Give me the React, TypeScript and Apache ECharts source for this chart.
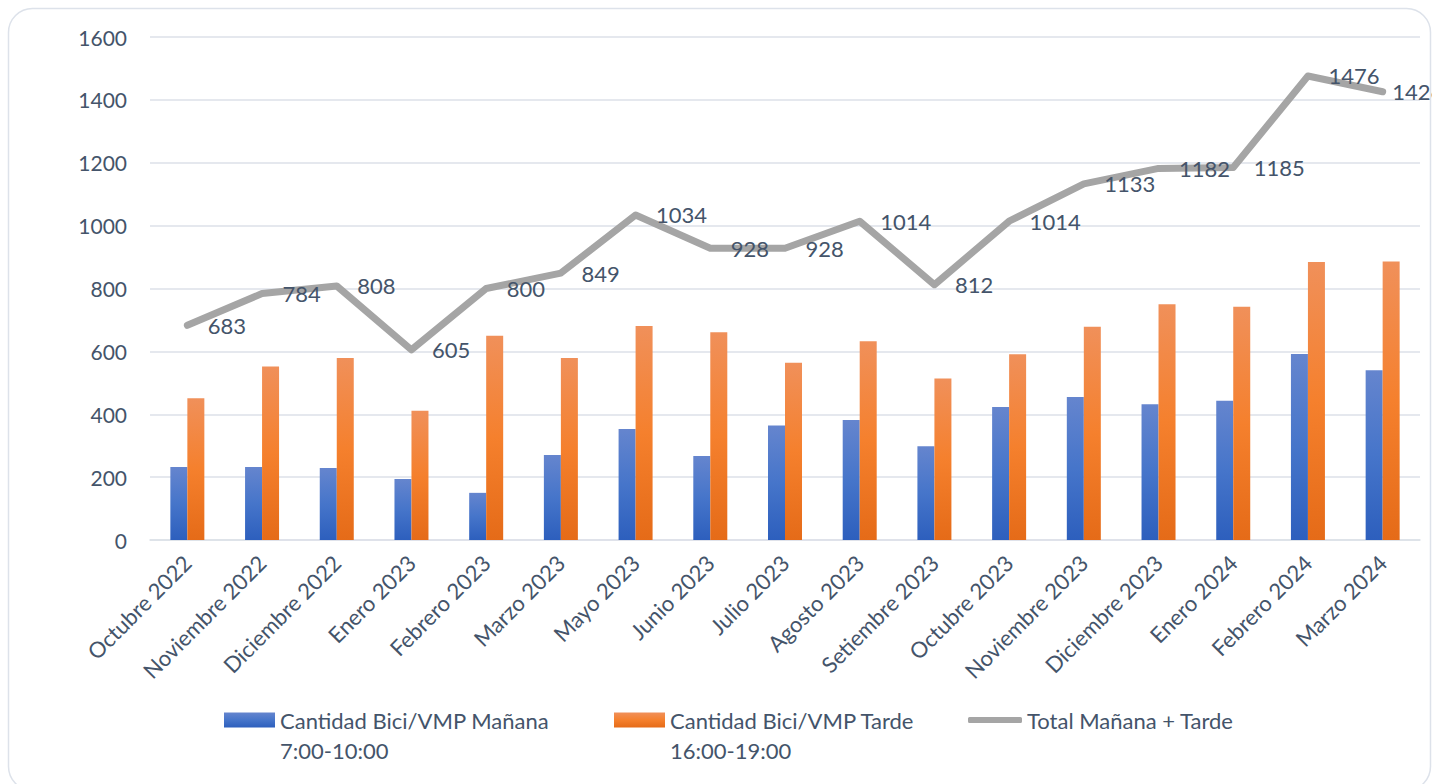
import React, { useEffect, useRef } from "react";
import * as echarts from "echarts";

const categories = [
  "Octubre 2022", "Noviembre 2022", "Diciembre 2022", "Enero 2023", "Febrero 2023",
  "Marzo 2023", "Mayo 2023", "Junio 2023", "Julio 2023", "Agosto 2023",
  "Setiembre 2023", "Octubre 2023", "Noviembre 2023", "Diciembre 2023",
  "Enero 2024", "Febrero 2024", "Marzo 2024",
];
const manana = [232, 232, 229, 194, 150, 270, 353, 267, 364, 382, 298, 423, 455, 432, 443, 592, 540];
const tarde = [451, 552, 579, 411, 650, 579, 681, 661, 564, 632, 514, 591, 678, 750, 742, 884, 886];
const total = [683, 784, 808, 605, 800, 849, 1034, 928, 928, 1014, 812, 1014, 1133, 1182, 1185, 1476, 1426];

const seriesNames = ["Cantidad Bici/VMP Mañana", "Cantidad Bici/VMP Tarde", "Total Mañana + Tarde"];
const legendTexts = ["\nCantidad Bici/VMP Mañana\n7:00-10:00", "\nCantidad Bici/VMP Tarde\n16:00-19:00", "Total Mañana + Tarde"];

const FONT = "Lato";
const TXT = "#44546A";

export default function App() {
  const ref = useRef<HTMLDivElement>(null);
  useEffect(() => {
    if (!ref.current) return;
    const chart = echarts.init(ref.current, null, { renderer: "svg" });
    const blue = new echarts.graphic.LinearGradient(0, 0, 0, 1, [
      { offset: 0, color: "#6585CE" },
      { offset: 0.5, color: "#4675CA" },
      { offset: 1, color: "#2D5FBD" },
    ]);
    const orange = new echarts.graphic.LinearGradient(0, 0, 0, 1, [
      { offset: 0, color: "#F0905A" },
      { offset: 0.5, color: "#F5802D" },
      { offset: 1, color: "#E56B18" },
    ]);
    const legendText = (i: number) => () => legendTexts[i];
    const lineData = total.map((v, i) =>
      i === total.length - 1 ? { value: v, label: { offset: [-11, 0] } } : v
    );
    chart.setOption({
      animation: false,
      backgroundColor: "#ffffff",
      textStyle: { fontFamily: FONT },
      graphic: [
        {
          type: "rect",
          shape: { x: 8.5, y: 8.5, width: 1422, height: 782, r: 24 },
          style: { fill: "none", stroke: "#DDE2EA", lineWidth: 1.5 },
          silent: true,
          z: -10,
        },
      ],
      grid: { left: 150, right: 12, top: 37, bottom: 244, containLabel: false },
      legend: [
        {
          data: [seriesNames[0]],
          left: 219,
          top: 670,
          itemWidth: 51,
          itemHeight: 15,
          icon: "rect",
          formatter: legendText(0),
          textStyle: { color: TXT, fontSize: 22, fontFamily: FONT, lineHeight: 30 },
        },
        {
          data: [seriesNames[1]],
          left: 609,
          top: 670,
          itemWidth: 51,
          itemHeight: 15,
          icon: "rect",
          formatter: legendText(1),
          textStyle: { color: TXT, fontSize: 22, fontFamily: FONT, lineHeight: 30 },
        },
        {
          data: [{ name: seriesNames[2], icon: "roundRect" }],
          left: 963,
          top: 704,
          itemWidth: 54,
          itemHeight: 6,
          formatter: legendText(2),
          textStyle: { color: TXT, fontSize: 22, fontFamily: FONT },
        },
      ],
      xAxis: {
        type: "category",
        data: categories,
        axisLine: { lineStyle: { color: "#DCE1E8", width: 1.5 } },
        axisTick: { show: false },
        axisLabel: {
          rotate: 45,
          interval: 0,
          margin: 19,
          color: TXT,
          fontSize: 22,
          fontFamily: FONT,
        },
      },
      yAxis: {
        type: "value",
        min: 0,
        max: 1600,
        interval: 200,
        axisLine: { show: false },
        axisTick: { show: false },
        axisLabel: {
          color: TXT,
          fontSize: 21,
          fontFamily: FONT,
          margin: 23,
          formatter: (v: number) => String(v),
        },
        splitLine: { lineStyle: { color: "#DCE1E8", width: 1.5 } },
      },
      series: [
        {
          name: seriesNames[0],
          type: "bar",
          data: manana,
          barWidth: 17,
          barGap: "0%",
          itemStyle: { color: blue },
        },
        {
          name: seriesNames[1],
          type: "bar",
          data: tarde,
          barWidth: 17,
          barGap: "0%",
          itemStyle: { color: orange },
        },
        {
          name: seriesNames[2],
          type: "line",
          data: lineData,
          symbol: "circle",
          symbolSize: 1,
          showSymbol: true,
          z: 5,
          lineStyle: { color: "#A5A5A5", width: 7, cap: "round", join: "round" },
          itemStyle: { color: "#A5A5A5" },
          label: {
            show: true,
            position: "right",
            distance: 20,
            color: TXT,
            fontSize: 22,
            fontFamily: FONT,
          },
        },
      ],
    });
    return () => chart.dispose();
  }, []);
  return (
    <div
      ref={ref}
      style={{ position: "fixed", left: 0, top: 0, width: 1432, height: 784 }}
    />
  );
}
